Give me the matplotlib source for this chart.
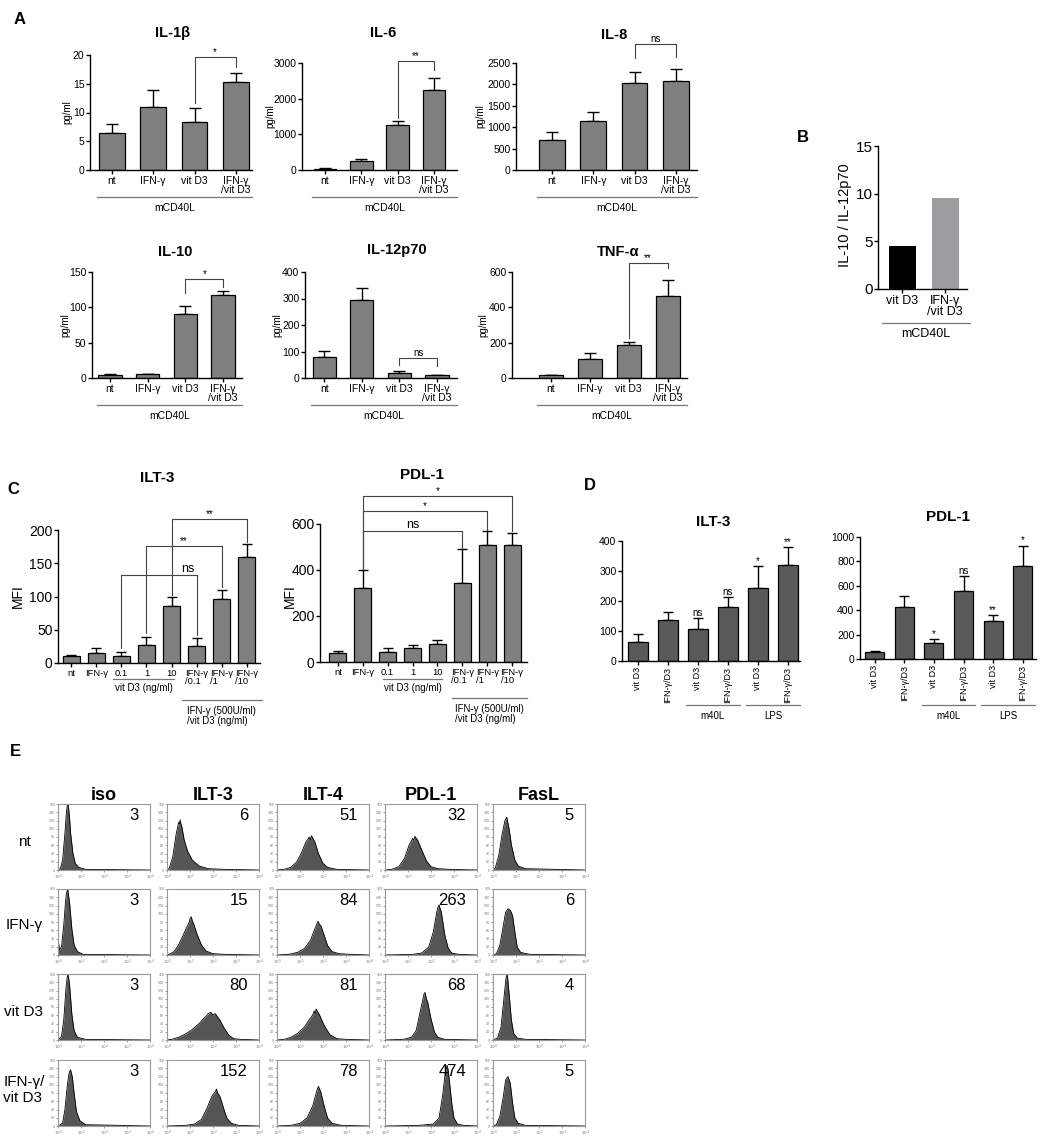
import numpy as np
import matplotlib
matplotlib.use('Agg')
import matplotlib.pyplot as plt
from matplotlib.transforms import blended_transform_factory

plt.rcParams['font.family'] = ['Liberation Sans', 'DejaVu Sans']
plt.rcParams['axes.linewidth'] = 1.0

W, H = 1041, 1136
fig = plt.figure(figsize=(W / 100, H / 100), dpi=100)

# ---------------- data ----------------
a_labels = ['nt', 'IFN-γ', 'vit D3', 'IFN-γ\n/vit D3']
il1b = [6.5, 11.0, 8.3, 15.3]
il1b_err = [1.5, 3.0, 2.5, 1.5]
il6 = [40, 250, 1250, 2230]
il6_err = [15, 45, 120, 360]
il8 = [690, 1150, 2040, 2090]
il8_err = [190, 200, 240, 270]
il10 = [4, 5, 90, 117]
il10_err = [1.2, 0.8, 12, 6]
il12 = [80, 293, 18, 10]
il12_err = [23, 47, 7, 3]
tnfa = [15, 110, 185, 465]
tnfa_err = [3, 30, 20, 90]

b_labels = ['vit D3', 'IFN-γ\n/vit D3']
b_ratio = [4.5, 9.5]

c_labels = ['nt', 'IFN-γ', '0.1', '1', '10', 'IFN-γ\n/0.1', 'IFN-γ\n/1', 'IFN-γ\n/10']
c_ilt3 = [10, 15, 11, 27, 85, 26, 96, 160]
c_ilt3_err = [2, 7, 6, 12, 15, 11, 14, 19]
c_pdl1 = [38, 320, 45, 60, 80, 345, 510, 508]
c_pdl1_err = [12, 80, 18, 13, 15, 145, 60, 55]

d_labels = ['vit D3', 'IFN-γ/D3', 'vit D3', 'IFN-γ/D3', 'vit D3', 'IFN-γ/D3']
d_ilt3 = [65, 138, 107, 180, 243, 320]
d_ilt3_err = [25, 27, 38, 33, 75, 60]
d_ilt3_sig = ['', '', 'ns', 'ns', '*', '**']
d_pdl1 = [55, 430, 135, 560, 310, 765]
d_pdl1_err = [10, 90, 25, 120, 50, 165]
d_pdl1_sig = ['', '', '*', 'ns', '**', '*']

e_markers = ['iso', 'ILT-3', 'ILT-4', 'PDL-1', 'FasL']
e_conditions = ['nt', 'IFN-γ', 'vit D3', 'IFN-γ/\nvit D3']
e_mfi_nt = [3, 6, 51, 32, 5]
e_mfi_ifn = [3, 15, 84, 263, 6]
e_mfi_vit = [3, 80, 81, 68, 4]
e_mfi_ifnvit = [3, 152, 78, 474, 5]

# histogram outlines: (log10 fluorescence, % of max)
hist_iso = [
    [(0, 0), (0.1, 2), (0.2, 15), (0.3, 55), (0.36, 85), (0.4, 97), (0.43, 100), (0.46, 94), (0.5, 80), (0.55, 55), (0.65, 25), (0.75, 10), (0.9, 4), (1.2, 1), (4, 0)],
    [(0, 0), (0.02, 20), (0.06, 8), (0.15, 12), (0.25, 45), (0.32, 78), (0.36, 92), (0.42, 100), (0.46, 90), (0.5, 80), (0.6, 40), (0.7, 15), (0.85, 5), (1.1, 1), (4, 0)],
    [(0, 0), (0.15, 5), (0.25, 30), (0.35, 80), (0.4, 95), (0.43, 100), (0.47, 92), (0.5, 85), (0.6, 40), (0.7, 14), (0.85, 4), (1.2, 1), (4, 0)],
    [(0, 0), (0.2, 4), (0.3, 25), (0.4, 60), (0.47, 78), (0.5, 82), (0.55, 85), (0.58, 80), (0.62, 75), (0.7, 50), (0.8, 22), (0.95, 8), (1.2, 2), (4, 0)],
]
hist_ilt3 = [
    [(0, 0), (0.1, 3), (0.25, 20), (0.4, 55), (0.47, 66), (0.5, 72), (0.54, 70), (0.57, 76), (0.62, 68), (0.65, 65), (0.75, 45), (0.9, 28), (1.1, 15), (1.4, 6), (1.8, 2), (2.5, 1), (4, 0)],
    [(0, 0), (0.1, 1), (0.3, 5), (0.5, 15), (0.7, 30), (0.9, 45), (0.97, 50), (1.0, 55), (1.05, 58), (1.1, 52), (1.15, 48), (1.3, 32), (1.5, 15), (1.7, 6), (2.0, 2), (2.5, 1), (4, 0)],
    [(0, 0), (0.2, 1), (0.5, 4), (0.8, 9), (1.1, 16), (1.4, 25), (1.6, 33), (1.7, 36), (1.8, 40), (1.9, 42), (2.0, 38), (2.1, 40), (2.3, 30), (2.5, 17), (2.7, 7), (2.9, 2), (3.2, 1), (4, 0)],
    [(0, 0), (0.8, 1), (1.2, 3), (1.5, 10), (1.75, 28), (1.95, 45), (2.05, 50), (2.1, 52), (2.15, 56), (2.2, 50), (2.3, 45), (2.45, 28), (2.6, 12), (2.8, 4), (3.1, 1), (4, 0)],
]
hist_ilt4 = [
    [(0, 0), (0.3, 1), (0.6, 4), (0.85, 12), (1.05, 25), (1.25, 42), (1.35, 47), (1.4, 50), (1.45, 46), (1.5, 52), (1.65, 42), (1.8, 25), (2.0, 10), (2.2, 4), (2.6, 1), (4, 0)],
    [(0, 0), (0.5, 1), (0.9, 4), (1.2, 10), (1.45, 22), (1.65, 40), (1.72, 46), (1.78, 51), (1.85, 46), (1.9, 45), (2.05, 30), (2.2, 14), (2.4, 5), (2.7, 2), (3.2, 1), (4, 0)],
    [(0, 0), (0.3, 1), (0.6, 4), (0.9, 10), (1.2, 20), (1.45, 33), (1.55, 38), (1.62, 44), (1.66, 40), (1.7, 47), (1.85, 38), (2.05, 22), (2.3, 8), (2.6, 2), (3.0, 1), (4, 0)],
    [(0, 0), (0.6, 1), (1.0, 4), (1.3, 12), (1.55, 30), (1.72, 52), (1.8, 60), (1.85, 56), (1.9, 52), (2.05, 30), (2.2, 12), (2.4, 4), (2.8, 1), (4, 0)],
]
hist_pdl1 = [
    [(0, 0), (0.3, 1), (0.6, 5), (0.85, 18), (1.05, 38), (1.15, 44), (1.2, 48), (1.25, 45), (1.3, 51), (1.42, 45), (1.6, 30), (1.8, 14), (2.0, 5), (2.3, 2), (2.8, 1), (4, 0)],
    [(0, 0), (1.2, 1), (1.6, 3), (1.9, 12), (2.1, 35), (2.25, 65), (2.3, 72), (2.35, 76), (2.4, 70), (2.45, 65), (2.6, 30), (2.75, 10), (2.9, 3), (3.2, 1), (4, 0)],
    [(0, 0), (0.8, 1), (1.15, 4), (1.35, 14), (1.5, 38), (1.65, 62), (1.7, 70), (1.74, 72), (1.8, 62), (1.85, 58), (2.0, 32), (2.15, 12), (2.3, 4), (2.6, 1), (4, 0)],
    [(0, 0), (1.5, 1), (2.1, 3), (2.35, 12), (2.5, 45), (2.62, 80), (2.7, 92), (2.74, 86), (2.78, 75), (2.9, 35), (3.0, 12), (3.15, 3), (3.4, 1), (4, 0)],
]
hist_fasl = [
    [(0, 0), (0.1, 3), (0.25, 22), (0.4, 55), (0.52, 75), (0.6, 80), (0.7, 62), (0.8, 38), (0.95, 15), (1.1, 6), (1.4, 2), (4, 0)],
    [(0, 0), (0.15, 2), (0.3, 15), (0.45, 45), (0.55, 65), (0.65, 70), (0.75, 68), (0.85, 60), (0.95, 35), (1.05, 12), (1.2, 4), (1.6, 1), (4, 0)],
    [(0, 0), (0.2, 3), (0.35, 20), (0.48, 65), (0.57, 95), (0.62, 100), (0.7, 70), (0.8, 30), (0.9, 10), (1.05, 3), (1.4, 1), (4, 0)],
    [(0, 0), (0.15, 2), (0.3, 15), (0.45, 45), (0.55, 70), (0.65, 75), (0.75, 65), (0.85, 35), (0.95, 12), (1.1, 4), (1.4, 1), (4, 0)],
]


# ---------------- helpers ----------------
def fy(y):
    return 1 - y / H


def make_axes(x0, ytop, x1, yzero):
    return fig.add_axes([x0 / W, fy(yzero), (x1 - x0) / W, (yzero - ytop) / H])


def bar_panel(ax, vals, errs, xlim, yticks, color='#7f7f7f', width=0.62, cap=4.5, fs=7.5):
    x = np.arange(len(vals))
    ax.bar(x, vals, width, color=color, edgecolor='black', linewidth=0.9, zorder=2)
    ax.errorbar(x, vals, yerr=[np.zeros(len(vals)), errs], fmt='none', ecolor='black',
                elinewidth=1, capsize=cap, capthick=1, zorder=1)
    ax.set_xlim(*xlim)
    ax.set_ylim(yticks[0], yticks[-1])
    ax.set_yticks(yticks)
    for s in ['top', 'right']:
        ax.spines[s].set_visible(False)
    ax.tick_params(labelsize=fs, length=3, width=1, pad=1)
    ax.set_xticks(x)
    return x


def bracket(ax, xa, xb, y, ya, yb, text, tx=None, fs=7, color='#444444'):
    ax.plot([xa, xa, xb, xb], [ya, y, y, yb], color=color, lw=0.8, clip_on=False)
    if tx is None:
        tx = (xa + xb) / 2
    ax.text(tx, y, text, ha='center', va='bottom', fontsize=fs, clip_on=False)


def group_line(ax, xa, xb, ypix, text=None, typix=None, fs=7.5, color='#777777', **kw):
    tr = blended_transform_factory(ax.transData, fig.transFigure)
    ax.plot([xa, xb], [fy(ypix)] * 2, transform=tr, color=color, lw=0.9, clip_on=False)
    if text:
        ax.text(kw.get('tx', (xa + xb) / 2), fy(typix), text, transform=tr, ha='center',
                va='center', fontsize=fs, multialignment=kw.get('ma', 'center'), linespacing=1.0)


def flabel(x, y, s, **kw):
    fig.text(x / W, fy(y), s, ha='center', va='center', **kw)


# ---------------- panel A ----------------
flabel(20, 19, 'A', fontsize=12, fontweight='bold')
a_specs = [
    ('IL-1β', il1b, il1b_err, (90, 55, 252, 170), (-0.53, 3.39), [0, 5, 10, 15, 20], (173, 33), 67),
    ('IL-6', il6, il6_err, (302, 63, 457, 170), (-0.63, 3.63), [0, 1000, 2000, 3000], (383, 33), 270),
    ('IL-8', il8, il8_err, (516, 63, 697, 170), (-0.87, 3.51), [0, 500, 1000, 1500, 2000, 2500], (614, 35), 480),
    ('IL-10', il10, il10_err, (92, 272, 242, 378), (-0.48, 3.5), [0, 50, 100, 150], (175, 252), 65),
    ('IL-12p70', il12, il12_err, (305, 272, 457, 378), (-0.51, 3.53), [0, 100, 200, 300, 400], (397, 250), 277),
    ('TNF-α', tnfa, tnfa_err, (512, 272, 687, 378), (-1.0, 3.5), [0, 200, 400, 600], (618, 252), 483),
]
a_axes = []
for name, vals, errs, (x0, yt, x1, yz), xl, yt_, tpos, ylx in a_specs:
    ax = make_axes(x0, yt, x1, yz)
    bar_panel(ax, vals, errs, xl, yt_, width=0.62)
    ax.set_xticklabels(a_labels, fontsize=7.5, linespacing=0.95)
    flabel(*tpos, name, fontsize=10.5, fontweight='bold')
    flabel(ylx, (yt + yz) / 2, 'pg/ml', fontsize=7, rotation=90)
    group_line(ax, -0.36, xl[1], yz + 27, 'mCD40L', yz + 38)
    a_axes.append(ax)

bracket(a_axes[0], 2, 3, 19.6, 11.6, 17.9, '*')
bracket(a_axes[1], 2, 3, 3050, 1450, 2800, '**')
bracket(a_axes[2], 2, 3, 2950, 2620, 2640, 'ns')
bracket(a_axes[3], 2, 3, 140, 120, 129, '*')
bracket(a_axes[4], 2, 3, 75, 49, 45, 'ns')
bracket(a_axes[5], 2, 3, 651, 225, 620, '**')

# ---------------- panel B ----------------
flabel(803, 137, 'B', fontsize=12, fontweight='bold')
axb = make_axes(878, 146, 967, 289)
xb = np.arange(len(b_ratio))
axb.bar(xb, b_ratio, 0.63, color=['black', '#9d9d9f'])
axb.set_xlim(-0.56, 1.51)
axb.set_ylim(0, 15)
axb.set_yticks([0, 5, 10, 15])
axb.set_xticks(xb)
axb.set_xticklabels(b_labels, fontsize=9, linespacing=0.95)
for s in ['top', 'right']:
    axb.spines[s].set_visible(False)
axb.tick_params(axis='y', labelsize=11, length=3, width=1, pad=1)
axb.tick_params(axis='x', length=3, width=1, pad=1)
flabel(845, 215, 'IL-10 / IL-12p70', fontsize=10.5, rotation=90)
group_line(axb, -0.47, 1.58, 323, 'mCD40L', 334, fs=9)

# ---------------- panel C ----------------
flabel(13, 490, 'C', fontsize=12, fontweight='bold')
axc1 = make_axes(58, 530, 260, 663)
bar_panel(axc1, c_ilt3, c_ilt3_err, (-0.52, 7.52), [0, 50, 100, 150, 200], width=0.68, cap=3.5, fs=10)
axc1.set_xticklabels(c_labels, fontsize=6.8, linespacing=0.95, multialignment='left')
flabel(157, 478, 'ILT-3', fontsize=11, fontweight='bold')
flabel(18, 596, 'MFI', fontsize=10, rotation=90)
group_line(axc1, 1.67, 4.1, 679, 'vit D3 (ng/ml)', 688, fs=7)
group_line(axc1, 4.42, 7.6, 700, 'IFN-γ (500U/ml)\n/vit D3 (ng/ml)', 716, fs=7, tx=6.0, ma='left')
bracket(axc1, 2, 5, 132, 22, 42, 'ns', tx=4.66, fs=9)
bracket(axc1, 3, 6, 176, 45, 115, '**')
bracket(axc1, 4, 7, 216, 103, 182, '**')

axc2 = make_axes(320, 524, 527, 662)
bar_panel(axc2, c_pdl1, c_pdl1_err, (-0.72, 7.6), [0, 200, 400, 600], width=0.68, cap=3.5, fs=10)
axc2.set_xticklabels(c_labels, fontsize=6.8, linespacing=0.95, multialignment='left')
flabel(422, 475, 'PDL-1', fontsize=11, fontweight='bold')
flabel(290, 596, 'MFI', fontsize=10, rotation=90)
group_line(axc2, 1.8, 4.2, 679, 'vit D3 (ng/ml)', 688, fs=7)
group_line(axc2, 4.6, 7.6, 698, 'IFN-γ (500U/ml)\n/vit D3 (ng/ml)', 714, fs=7, tx=6.1, ma='left')
bracket(axc2, 1, 5, 570, 405, 495, 'ns', fs=9)
bracket(axc2, 1, 6, 657, 405, 575, '*')
bracket(axc2, 1, 7, 722, 405, 568, '*')

# ---------------- panel D ----------------
flabel(590, 486, 'D', fontsize=12, fontweight='bold')
d_specs = [
    ('ILT-3', d_ilt3, d_ilt3_err, d_ilt3_sig, (622, 541, 800, 661), (-0.53, 5.4), [0, 100, 200, 300, 400], (713, 522)),
    ('PDL-1', d_pdl1, d_pdl1_err, d_pdl1_sig, (860, 537, 1036, 659), (-0.5, 5.45), [0, 200, 400, 600, 800, 1000], (948, 517)),
]
for name, vals, errs, sig, (x0, yt, x1, yz), xl, yt_, tpos in d_specs:
    ax = make_axes(x0, yt, x1, yz)
    x = bar_panel(ax, vals, errs, xl, yt_, color='#595959', width=0.64, cap=3.5, fs=7.5)
    ax.set_xticklabels(d_labels, fontsize=6.5, rotation=90)
    for xi, v, e, s in zip(x, vals, errs, sig):
        if s:
            ax.text(xi, v + e, s, ha='center', va='bottom', fontsize=7)
    flabel(*tpos, name, fontsize=11, fontweight='bold')
    group_line(ax, 1.6, 3.4, 705, 'm40L', 716, fs=7)
    group_line(ax, 3.6, 5.4, 705, 'LPS', 716, fs=7)

# ---------------- panel E ----------------
flabel(15, 752, 'E', fontsize=12, fontweight='bold')
col_x = [58, 167, 277, 385, 493]
row_y = [804, 889, 974, 1060]
box_w, box_h = 92, 66
e_hists = [hist_iso, hist_ilt3, hist_ilt4, hist_pdl1, hist_fasl]
e_mfi = [e_mfi_nt, e_mfi_ifn, e_mfi_vit, e_mfi_ifnvit]
label_y = [842, 925, 1012, 1090]
for c, name in enumerate(e_markers):
    flabel(col_x[c] + box_w / 2, 795, name, fontsize=13, fontweight='bold')
    for r in range(4):
        ax = make_axes(col_x[c], row_y[r], col_x[c] + box_w, row_y[r] + box_h)
        xs = [p[0] for p in e_hists[c][r]]
        ys = [p[1] for p in e_hists[c][r]]
        ax.fill_between(xs, ys, color='#555555', lw=0)
        ax.plot(xs, ys, color='black', lw=0.6)
        ax.set_xlim(0, 4)
        ax.set_ylim(0, 100)
        ax.set_xticks([0, 1, 2, 3, 4])
        ax.set_xticklabels(['$10^%d$' % i for i in range(5)], fontsize=3, color='#777777')
        ax.set_yticks(np.arange(0, 101, 12.5))
        ax.set_yticklabels(['%d' % v for v in np.arange(0, 161, 20)], fontsize=2.5, color='#777777')
        ax.tick_params(length=1.5, width=0.5, pad=0.5, colors='#777777')
        for s in ax.spines.values():
            s.set_color('#999999')
            s.set_linewidth(0.8)
        ax.text(0.88, 0.83, str(e_mfi[r][c]), transform=ax.transAxes, ha='right', va='center', fontsize=12)
for r, cond in enumerate(e_conditions):
    flabel(24, label_y[r], cond, fontsize=11, multialignment='left', linespacing=1.1)

fig.savefig('out.png', dpi=100)
